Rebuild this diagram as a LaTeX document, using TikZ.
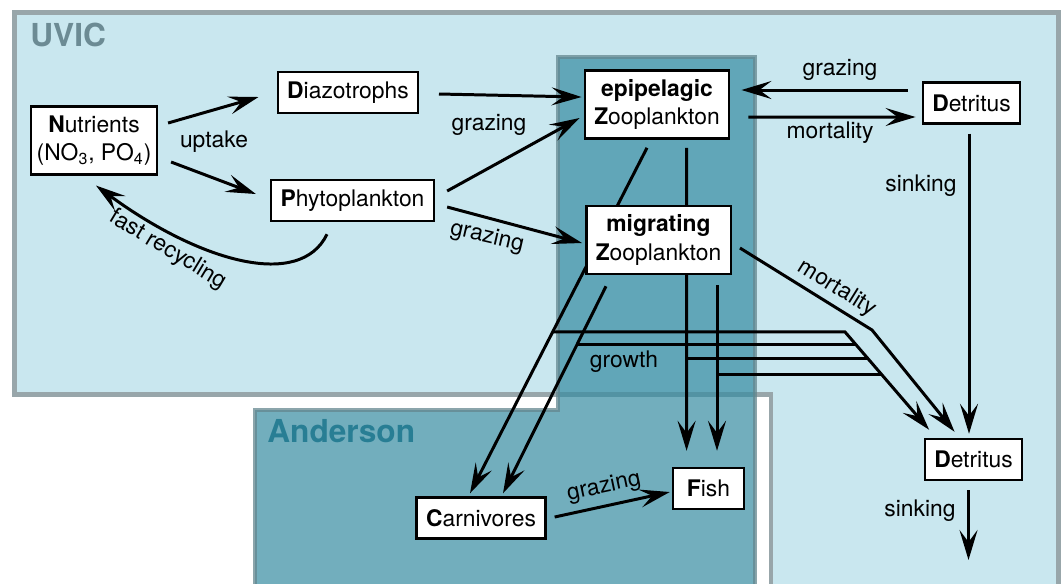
\documentclass[tikz,border=0pt]{standalone}
\usepackage{fontspec}
\setmainfont{TeX Gyre Heros}
\usepackage{tikz}
\usetikzlibrary{arrows.meta, calc}
\newcommand{\boxfont}{\fontsize{13}{16}\selectfont}
\newcommand{\modelfont}{\fontsize{18}{20}\selectfont\bfseries}
\definecolor{uvicazul}{RGB}{201,231,239}
\definecolor{uvicgris}{RGB}{152,166,170}
\definecolor{uvictexto}{RGB}{108,139,148}
\definecolor{andersonazul}{RGB}{54,139,161}
\definecolor{andersongris}{RGB}{100,135,143}
\definecolor{andersontexto}{RGB}{40,126,148}
\pgfdeclarelayer{boxes}
\pgfsetlayers{main,boxes}
\tikzset{>={Stealth[length=6mm, width=3.6mm, inset=2.4mm]}}
\tikzset{pool/.style={draw, fill=white, line width=1.4pt, inner xsep=1.9mm, inner ysep=1.8mm, minimum height=8.2mm, align=center, font=\boxfont},
         flux/.style={->, line width=1.7pt},
         lbl/.style={font=\boxfont, inner sep=0pt},
         model/.style={font=\modelfont, inner sep=0pt, anchor=west}}

\begin{document}
\begin{tikzpicture}[x=0.02cm, y=-0.02cm]
	\useasboundingbox (0,0) rectangle (1064,583);
	\clip (0,0) rectangle (1064,583);

	% model domains
	\filldraw[fill=uvicazul, draw=uvicgris, line width=2.8pt]
		(14.5,12.5) -- (1058.5,12.5) -- (1058.5,600) -- (771,600) -- (771,394.5) -- (14.5,394.5) -- cycle;
	\filldraw[fill=andersonazul, fill opacity=0.7, draw=andersongris, draw opacity=0.75, line width=2.4pt]
		(558,57) -- (755,57) -- (755,600) -- (255,600) -- (255,410) -- (558,410) -- cycle;
	\node[model, text=uvictexto] (uvic) at (30,35) {UVIC};
	\node[model, text=andersontexto] (anderson) at (267,431) {Anderson};

	% pools
	\begin{pgfonlayer}{boxes}
		\node[pool, inner xsep=1.1mm] (nut) at (94,140.5) {\textbf{N}utrients\\(NO\textsubscript{3}, PO\textsubscript{4})};
		\node[pool] (dia) at (348,92.5) {\textbf{D}iazotrophs};
		\node[pool] (phy) at (352.5,200.5) {\textbf{P}hytoplankton};
		\node[pool] (epi) at (657,104.5) {\textbf{epipelagic}\\\textbf{Z}ooplankton};
		\node[pool] (mig) at (658.5,240) {\textbf{migrating}\\\textbf{Z}ooplankton};
		\node[pool] (detA) at (971.5,103) {\textbf{D}etritus};
		\node[pool] (detB) at (973.5,459.5) {\textbf{D}etritus};
		\node[pool] (carn) at (481,518) {\textbf{C}arnivores};
		\node[pool, minimum width=1.42cm] (fish) at (708.5,488.5) {\textbf{F}ish};
	\end{pgfonlayer}

	% uptake and grazing
	\draw[flux] ($(nut.east)+(10,-17.5)$) -- ($(dia.west)+(-18,4.5)$);
	\draw[flux] ($(nut.east)+(13,21.5)$) -- ($(phy.west)+(-14,-6.5)$);
	\node[lbl] (uptake) at (214,142) {uptake};
	\draw[flux] ($(dia.east)+(19.5,1.5)$) -- ($(epi.west)+(-2,-7.5)$);
	\draw[flux] ($(phy.east)+(12,-9.5)$) -- ($(epi.west)+(-4,13.5)$);
	\draw[flux] ($(phy.east)+(12,6.5)$) -- ($(mig.west)+(-3,3)$);
	\node[lbl] (grazA) at (489,125) {grazing};
	\node[lbl, rotate=-13] (grazB) at (487,237) {grazing};
	\draw[flux] ($(phy.south)+(-25.5,12)$) .. controls (300,290) and (200,262) .. ($(nut.south)+(2,10)$);
	\node[lbl, rotate=-31] (recyc) at (168,250) {fast recycling};

	% detritus loop
	\draw[flux] ($(detA.west)+(-14,-13)$) -- ($(epi.east)+(11,-14.5)$);
	\node[lbl] (grazC) at (840,70) {grazing};
	\draw[flux] ($(epi.east)+(18,12.5)$) -- ($(detA.west)+(-6,14)$);
	\node[lbl] (mortA) at (830,133) {mortality};
	\draw[flux] ($(detA.south)+(-2.5,9)$) -- ($(detB.north)+(-4.5,-4)$);
	\node[lbl] (sinkA) at (921,186) {sinking};
	\coordinate (sinkout) at (968.5,560);
	\draw[flux] ($(detB.south)+(-5,9)$) -- (sinkout);
	\node[lbl] (sinkB) at (920,511) {sinking};

	% predators
	\draw[flux] ($(epi.south)+(-10,8)$) -- coordinate[pos=0.533] (ga) ($(carn.north)+(-11,-3)$);
	\draw[flux] ($(mig.south)+(-52.5,11)$) -- coordinate[pos=0.282] (gb) ($(carn.north)+(22,-3)$);
	\draw[flux] ($(epi.south)+(29.6,8)$) -- coordinate[pos=0.694] (gc) ($(fish.north)+(-21.9,-16)$);
	\draw[flux] ($(mig.south)+(58.5,10)$) -- coordinate[pos=0.541] (gd) ($(fish.north)+(8.5,-16)$);
	\draw[flux] ($(carn.east)+(8,-1)$) -- ($(fish.west)+(-2,3.5)$);
	\node[lbl, rotate=12] (grazD) at (604,487) {grazing};

	% losses to detritus
	\coordinate (bendA) at (ga -| 845,0);
	\coordinate (tipA) at ($(detB.north west)+(5.6,-8)$);
	\coordinate (bendM) at (872,330);
	\coordinate (pb) at ($(bendA)!0.121!(tipA)$);
	\coordinate (pc) at ($(bendA)!0.283!(tipA)$);
	\coordinate (pd) at ($(bendA)!0.444!(tipA)$);
	\draw[flux] (ga) -- (bendA) -- (tipA);
	\draw[line width=1.7pt] (gb) -- (gb -| pb);
	\draw[line width=1.7pt] (gc) -- (gc -| pc);
	\draw[line width=1.7pt] (gd) -- (gd -| pd);
	\node[lbl] (growth) at (624,362) {growth};
	\draw[flux] ($(mig.east)+(8,8)$) -- node[lbl, sloped, above=0.9mm, pos=0.667] (mortB) {mortality} (bendM) -- ($(detB.north west)+(31,-6)$);
\end{tikzpicture}
\end{document}
